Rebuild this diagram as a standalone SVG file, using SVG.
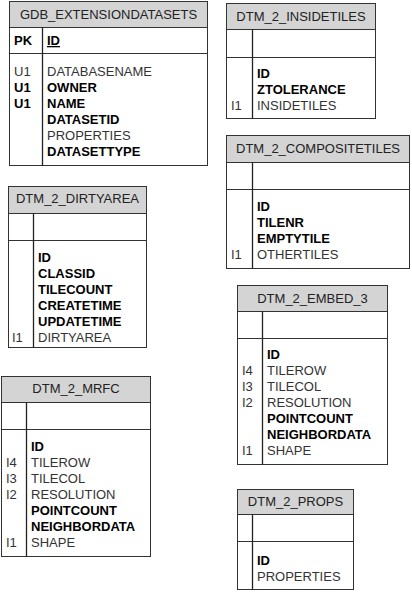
<svg xmlns="http://www.w3.org/2000/svg" width="412" height="592" viewBox="0 0 412 592">
<style>
.box{fill:#fff;stroke:#333;stroke-width:1}
.hd{fill:#d4d4d4;stroke:#333;stroke-width:1}
.ln{stroke:#333;stroke-width:1;fill:none}
.dv{stroke:#222;stroke-width:1.3;fill:none}
text{font-family:"Liberation Sans",Arial,sans-serif;font-size:13px;fill:#333}
.t{text-anchor:middle;fill:#222}
.b{font-weight:bold;fill:#000}
.u{text-decoration:underline}
</style>
<rect width="412" height="592" fill="#fff"/>

<g id="gdb_extensiondatasets">
<rect class="box" x="9.5" y="1.5" width="198" height="164"/>
<rect class="hd" x="9.5" y="1.5" width="198" height="26"/>
<line class="ln" x1="9.5" y1="53.5" x2="207.5" y2="53.5"/>
<line class="dv" x1="42.5" y1="27.5" x2="42.5" y2="165.5"/>
<text class="t" x="108.5" y="19">GDB_EXTENSIONDATASETS</text>
<text class="b" x="14" y="45">PK</text>
<text class="b u" x="47" y="45">ID</text>
<text x="14" y="76">U1</text><text x="47" y="76">DATABASENAME</text>
<text class="b" x="14" y="92">U1</text><text class="b" x="47" y="92">OWNER</text>
<text class="b" x="14" y="108">U1</text><text class="b" x="47" y="108">NAME</text>
<text class="b" x="47" y="124">DATASETID</text>
<text x="47" y="140">PROPERTIES</text>
<text class="b" x="47" y="156">DATASETTYPE</text>
</g>

<g id="dtm_2_insidetiles">
<rect class="box" x="226.5" y="3.5" width="149" height="115"/>
<rect class="hd" x="226.5" y="3.5" width="149" height="26"/>
<line class="ln" x1="226.5" y1="57.5" x2="375.5" y2="57.5"/>
<line class="dv" x1="252.5" y1="29.5" x2="252.5" y2="118.5"/>
<text class="t" x="301" y="21">DTM_2_INSIDETILES</text>
<text class="b" x="257" y="78">ID</text>
<text class="b" x="257" y="94">ZTOLERANCE</text>
<text x="231" y="110">I1</text><text x="257" y="110">INSIDETILES</text>
</g>

<g id="dtm_2_compositetiles">
<rect class="box" x="226.5" y="135.5" width="183" height="133"/>
<rect class="hd" x="226.5" y="135.5" width="183" height="27"/>
<line class="ln" x1="226.5" y1="189.5" x2="409.5" y2="189.5"/>
<line class="dv" x1="252.5" y1="162.5" x2="252.5" y2="268.5"/>
<text class="t" x="318" y="153">DTM_2_COMPOSITETILES</text>
<text class="b" x="257" y="211">ID</text>
<text class="b" x="257" y="227">TILENR</text>
<text class="b" x="257" y="243">EMPTYTILE</text>
<text x="231" y="259">I1</text><text x="257" y="259">OTHERTILES</text>
</g>

<g id="dtm_2_dirtyarea">
<rect class="box" x="8.5" y="186.5" width="138" height="161"/>
<rect class="hd" x="8.5" y="186.5" width="138" height="27"/>
<line class="ln" x1="8.5" y1="240.5" x2="146.5" y2="240.5"/>
<line class="dv" x1="33.5" y1="213.5" x2="33.5" y2="347.5"/>
<text class="t" x="77.5" y="203">DTM_2_DIRTYAREA</text>
<text class="b" x="38" y="262">ID</text>
<text class="b" x="38" y="278">CLASSID</text>
<text class="b" x="38" y="294">TILECOUNT</text>
<text class="b" x="38" y="310">CREATETIME</text>
<text class="b" x="38" y="326">UPDATETIME</text>
<text x="12" y="342">I1</text><text x="38" y="342">DIRTYAREA</text>
</g>

<g id="dtm_2_embed_3">
<rect class="box" x="237.5" y="285.5" width="150" height="179"/>
<rect class="hd" x="237.5" y="285.5" width="150" height="26"/>
<line class="ln" x1="237.5" y1="338.5" x2="387.5" y2="338.5"/>
<line class="dv" x1="262.5" y1="311.5" x2="262.5" y2="464.5"/>
<text class="t" x="312.5" y="303">DTM_2_EMBED_3</text>
<text class="b" x="267" y="359">ID</text>
<text x="242" y="375">I4</text><text x="267" y="375">TILEROW</text>
<text x="242" y="391">I3</text><text x="267" y="391">TILECOL</text>
<text x="242" y="407">I2</text><text x="267" y="407">RESOLUTION</text>
<text class="b" x="267" y="423">POINTCOUNT</text>
<text class="b" x="267" y="439">NEIGHBORDATA</text>
<text x="242" y="455">I1</text><text x="267" y="455">SHAPE</text>
</g>

<g id="dtm_2_mrfc">
<rect class="box" x="1.5" y="376.5" width="149" height="180"/>
<rect class="hd" x="1.5" y="376.5" width="149" height="26"/>
<line class="ln" x1="1.5" y1="429.5" x2="150.5" y2="429.5"/>
<line class="dv" x1="26.5" y1="402.5" x2="26.5" y2="556.5"/>
<text class="t" x="76" y="393">DTM_2_MRFC</text>
<text class="b" x="31" y="451">ID</text>
<text x="6" y="467">I4</text><text x="31" y="467">TILEROW</text>
<text x="6" y="483">I3</text><text x="31" y="483">TILECOL</text>
<text x="6" y="499">I2</text><text x="31" y="499">RESOLUTION</text>
<text class="b" x="31" y="515">POINTCOUNT</text>
<text class="b" x="31" y="531">NEIGHBORDATA</text>
<text x="6" y="547">I1</text><text x="31" y="547">SHAPE</text>
</g>

<g id="dtm_2_props">
<rect class="box" x="237.5" y="489.5" width="116" height="100"/>
<rect class="hd" x="237.5" y="489.5" width="116" height="25"/>
<line class="ln" x1="237.5" y1="541.5" x2="353.5" y2="541.5"/>
<line class="dv" x1="252.5" y1="514.5" x2="252.5" y2="589.5"/>
<text class="t" x="295.5" y="506">DTM_2_PROPS</text>
<text class="b" x="257" y="565">ID</text>
<text x="257" y="581">PROPERTIES</text>
</g>

<g id="connectors"></g>
</svg>
